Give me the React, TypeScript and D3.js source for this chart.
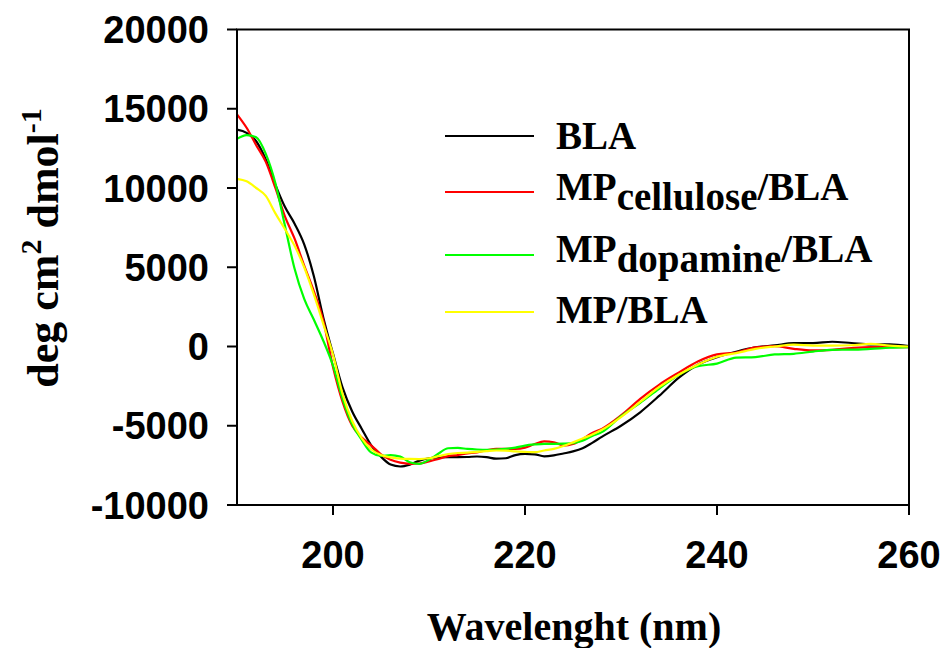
import React from "react";
import * as d3 from "d3";

const wavelengths = [
  190, 191, 192, 193, 194, 195, 196, 197, 198, 199, 200, 201, 202, 203, 204, 205, 206, 207, 208, 209,
  210, 211, 212, 213, 214, 215, 216, 217, 218, 219, 220, 221, 222, 223, 224, 225, 226, 227, 228,
  230, 232, 234, 236, 238, 240, 242, 244, 246, 248, 250, 252, 254, 256, 258, 260,
];

const blaValues = [
  13680, 13480, 12950, 11800, 10200, 8800, 7750, 6450, 4450, 1800, -450, -2600, -4100, -5200, -6250, -6950, -7450, -7570, -7450, -7200,
  -7050, -7000, -6980, -6980, -6970, -6940, -6980, -7080, -7050, -6850, -6780, -6800, -6930, -6870, -6750, -6620, -6420, -6080, -5700,
  -5000, -4150, -3100, -1980, -1150, -670, -330, -60, 70, 210, 210, 300, 220, 130, 130, 20,
];

const celluloseValues = [
  14650, 13800, 12700, 11650, 10000, 8200, 6800, 5100, 3500, 1600, -1300, -3500, -5000, -5750, -6250, -6800, -7150, -7330, -7400, -7380,
  -7250, -7100, -6920, -6850, -6750, -6680, -6550, -6460, -6460, -6460, -6380, -6150, -5990, -6040, -6250, -6150, -5850, -5450, -5200,
  -4350, -3300, -2400, -1650, -950, -500, -380, -60, 20, -150, -250, -210, -100, -40, -40, -40,
];

const dopamineValues = [
  13100, 13330, 13200, 12150, 10300, 7600, 4900, 3000, 1700, 350, -1200, -3300, -4900, -5900, -6700, -6900, -6850, -6950, -7300, -7400,
  -7150, -6750, -6420, -6400, -6460, -6500, -6520, -6500, -6460, -6380, -6250, -6180, -6140, -6140, -6130, -6100, -5950, -5650, -5400,
  -4400, -3550, -2650, -1800, -1250, -1080, -700, -670, -500, -460, -320, -210, -200, -150, -80, -40,
];

const mpValues = [
  10580, 10420, 10000, 9500, 8400, 7400, 6350, 5000, 3300, 1400, -500, -3000, -4700, -5800, -6500, -6850, -7000, -7070, -7090, -7100,
  -7050, -6920, -6780, -6720, -6700, -6650, -6600, -6560, -6570, -6620, -6650, -6670, -6560, -6460, -6280, -6050, -5800, -5550, -5250,
  -4450, -3500, -2550, -1780, -1150, -650, -420, -150, 0, 120, 60, 60, 80, 160, 60, 0,
];

const seriesNames = ["BLA", "MP_cellulose", "MP_dopamine", "MP/BLA"];
const seriesColors = ["#000000", "#ff0000", "#00ff00", "#ffff00"];
const seriesValues = [blaValues, celluloseValues, dopamineValues, mpValues];

const xTicks = [200, 220, 240, 260];
const yTicks = [-10000, -5000, 0, 5000, 10000, 15000, 20000];

const W = 945;
const H = 648;
const left = 237;
const right = 909;
const top = 29.5;
const bottom = 505;

export default function App() {
  const x = d3.scaleLinear().domain([190, 260]).range([left, right]);
  const y = d3.scaleLinear().domain([-10000, 20000]).range([bottom, top]);
  const line = d3
    .line<number>()
    .x((_, i) => x(wavelengths[i]))
    .y((d) => y(d))
    .curve(d3.curveMonotoneX);

  const sans = "'Liberation Sans', Arial, sans-serif";
  const serif = "'Liberation Serif', 'Times New Roman', serif";

  const legendLineY = [136, 192, 255, 312];
  const legendTextY = [149, 200, 262, 323];

  return (
    <svg
      width={W}
      height={H}
      style={{ position: "absolute", left: 0, top: 0, display: "block", background: "#fff" }}
    >
      <rect x={0} y={0} width={W} height={H} fill="#fff" />
      <g>
        {seriesValues.map((vals, i) => (
          <path key={i} d={line(vals) || ""} fill="none" stroke={seriesColors[i]} strokeWidth={2.2} />
        ))}
      </g>
      <rect x={left} y={top} width={right - left} height={bottom - top} fill="none" stroke="#000" strokeWidth={2} />
      {yTicks.map((t) => (
        <g key={t}>
          <line x1={left - 10} x2={left} y1={y(t)} y2={y(t)} stroke="#000" strokeWidth={2} />
          <text
            x={209}
            y={y(t)}
            dy="0.36em"
            textAnchor="end"
            fontFamily={sans}
            fontWeight="bold"
            fontSize={38}
          >
            {t}
          </text>
        </g>
      ))}
      {xTicks.map((t) => (
        <g key={t}>
          <line x1={x(t)} x2={x(t)} y1={bottom} y2={bottom + 10} stroke="#000" strokeWidth={2} />
          <text x={x(t)} y={568} textAnchor="middle" fontFamily={sans} fontWeight="bold" fontSize={38}>
            {t}
          </text>
        </g>
      ))}
      <text x={574} y={640} textAnchor="middle" fontFamily={serif} fontWeight="bold" fontSize={40}>
        Wavelenght (nm)
      </text>
      <text
        transform="translate(58,248) rotate(-90)"
        textAnchor="middle"
        fontFamily={serif}
        fontWeight="bold"
        fontSize={44}
      >
        deg cm
        <tspan dy={-17} fontSize={30}>2</tspan>
        <tspan dy={17}> dmol</tspan>
        <tspan dy={-17} fontSize={30}>-1</tspan>
      </text>
      {seriesNames.map((n, i) => (
        <g key={n}>
          <line x1={445} x2={534} y1={legendLineY[i]} y2={legendLineY[i]} stroke={seriesColors[i]} strokeWidth={2} />
          <text x={556} y={legendTextY[i]} fontFamily={serif} fontWeight="bold" fontSize={39}>
            {i === 1 ? (
              <>
                MP<tspan dy={10} fontSize={39}>cellulose</tspan>
                <tspan dy={-10}>/BLA</tspan>
              </>
            ) : i === 2 ? (
              <>
                MP<tspan dy={10} fontSize={39}>dopamine</tspan>
                <tspan dy={-10}>/BLA</tspan>
              </>
            ) : (
              n
            )}
          </text>
        </g>
      ))}
    </svg>
  );
}
